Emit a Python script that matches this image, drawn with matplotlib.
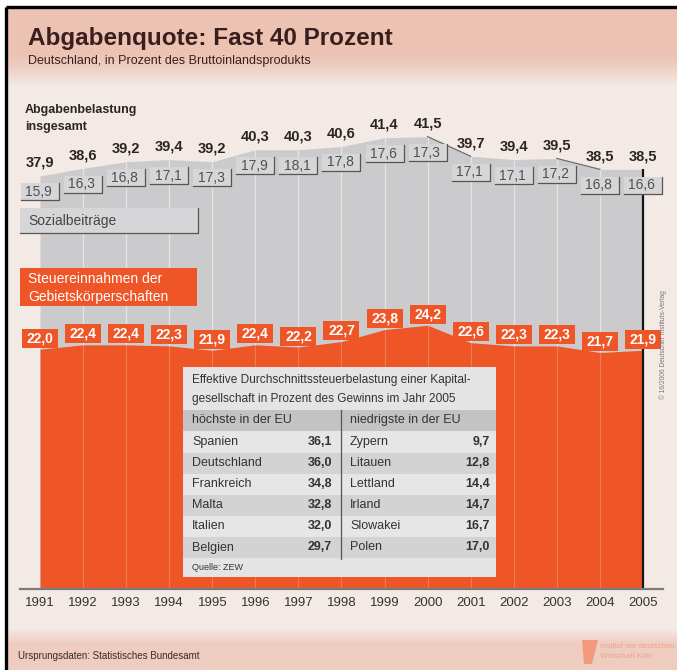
import matplotlib
matplotlib.use("Agg")
import matplotlib.pyplot as plt
from matplotlib.patches import Rectangle, Polygon
import numpy as np

# data (Deutschland, in % des BIP)
years = list(range(1991, 2006))
total = [37.9, 38.6, 39.2, 39.4, 39.2, 40.3, 40.3, 40.6, 41.4, 41.5, 39.7, 39.4, 39.5, 38.5, 38.5]
social = [15.9, 16.3, 16.8, 17.1, 17.3, 17.9, 18.1, 17.8, 17.6, 17.3, 17.1, 17.1, 17.2, 16.8, 16.6]
tax = [22.0, 22.4, 22.4, 22.3, 21.9, 22.4, 22.2, 22.7, 23.8, 24.2, 22.6, 22.3, 22.3, 21.7, 21.9]

# inset table (ZEW)
high_countries = ["Spanien", "Deutschland", "Frankreich", "Malta", "Italien", "Belgien"]
high_values = [36.1, 36.0, 34.8, 32.8, 32.0, 29.7]
low_countries = ["Zypern", "Litauen", "Lettland", "Irland", "Slowakei", "Polen"]
low_values = [9.7, 12.8, 14.4, 14.7, 16.7, 17.0]

plt.rcParams["font.family"] = ["Liberation Sans", "DejaVu Sans"]

GREY = "#CBCBCD"
BOXGREY = "#D6D6D8"
ORANGE = "#EE5527"
DARK = "#2B2424"


def fmt(v):
    return f"{v:.1f}".replace(".", ",")


W, H = 677, 670
fig = plt.figure(figsize=(W / 100, H / 100), dpi=100)
fig.patch.set_facecolor("white")
ax = fig.add_axes([0, 0, 1, 1])
ax.set_axis_off()

X0, DX = 40, 43.07   # pixel x of 1991, pixels per year
Y0, DY = 589, 10.9   # pixel y of 0 %, pixels per percentage point
ax.set_xlim(1991 - X0 / DX, 1991 + (W - X0) / DX)
ax.set_ylim(-(H - Y0) / DY, Y0 / DY)


def fx(x):
    return x / W


def fy(y):
    return 1 - y / H


def frect(x, y, w, h, z=0, **kw):
    ax.add_patch(Rectangle((fx(x), fy(y + h)), w / W, h / H,
                           transform=fig.transFigure, zorder=z, **kw))


def ftext(x, y, s, z=8, **kw):
    ax.text(fx(x), fy(y), s, transform=fig.transFigure, zorder=z, **kw)


def fline(xs, ys, z=5, **kw):
    ax.plot([fx(v) for v in xs], [fy(v) for v in ys], transform=fig.transFigure,
            zorder=z, **kw)


# background, header and footer bands
frect(6, 7, W, H, z=0, fc="#F3EAE5", ec="none")
top_c = np.array([0xEC, 0xC2, 0xB3]) / 255
bot_c = np.array([0xF3, 0xEA, 0xE5]) / 255
n = 40
for i in range(n):
    t = i / (n - 1)
    c = top_c + (bot_c - top_c) * max(0, (t - 0.55) / 0.45) ** 1.5
    frect(6, 7 + i * 2, W, 2.2, z=0.1, fc=c, ec="none")
foot_c = np.array([0xEE, 0xCC, 0xC0]) / 255
for i in range(20):
    t = i / 19
    c = bot_c + (foot_c - bot_c) * min(1, t / 0.35)
    frect(6, 628 + i * 2.1, W, 2.3, z=0.1, fc=c, ec="none")
fline([6, 6], [7, H], z=9, color="black", lw=2.4, solid_capstyle="butt")
fline([6, W], [7, 7], z=9, color="black", lw=2.4, solid_capstyle="butt")

# title
ftext(28, 45, "Abgabenquote: Fast 40 Prozent", fontsize=17.5, fontweight="bold",
      color="#3A1E1E", va="baseline")
ftext(28, 64, "Deutschland, in Prozent des Bruttoinlandsprodukts", fontsize=9,
      color="#3A1E1E", va="baseline")

# stacked areas
ax.fill_between(years, 0, total, color=GREY, lw=0, zorder=2)
ax.fill_between(years, 0, tax, color=ORANGE, lw=0, zorder=3)
ax.vlines(years[1:-1], tax[1:-1], total[1:-1], color="white", alpha=0.5, lw=0.9, zorder=2.5)
ax.vlines(years[1:-1], 0, tax[1:-1], color="#F7926F", alpha=0.6, lw=0.9, zorder=3.5)
for i in range(len(years) - 1):
    if total[i + 1] - total[i] < -0.5:
        ax.plot(years[i:i + 2], total[i:i + 2], color="#6E6E6E", lw=0.9, zorder=4)
ax.vlines(years[-1], 0, total[-1], color="#151515", lw=1.6, zorder=4)
ax.plot([1991 - 20 / DX, 1991 + 623 / DX], [0, 0], color="#7A7A7A", lw=1.6, zorder=4)

# labels per year
bw, bh = 38 / DX, 17 / DY
ow, oh = 36 / DX, 19 / DY
for yr, t, s, tx in zip(years, total, social, tax):
    ax.annotate(fmt(t), (yr, t), xytext=(0, 13), textcoords="offset pixels",
                ha="center", va="center", fontsize=10.5, fontweight="bold",
                color=DARK, zorder=7)
    yc = t - 16 / DY
    ax.add_patch(Rectangle((yr - bw / 2, yc - bh / 2), bw, bh, fc=BOXGREY, ec="none", zorder=5))
    ax.plot([yr - bw / 2, yr + bw / 2, yr + bw / 2], [yc - bh / 2, yc - bh / 2, yc + bh / 2],
            color="#555555", lw=0.9, zorder=6)
    ax.text(yr - 0.03, yc, fmt(s), ha="center", va="center", fontsize=10,
            color="#505050", zorder=7)
    oc = tx + 11 / DY
    ax.add_patch(Rectangle((yr - ow / 2, oc - oh / 2), ow, oh, fc=ORANGE, ec="none", zorder=5))
    ax.text(yr, oc, fmt(tx), ha="center", va="center", fontsize=10,
            fontweight="bold", color="white", zorder=7)
    ax.annotate(str(yr), (yr, 0), xytext=(0, -14), textcoords="offset pixels",
                ha="center", va="center", fontsize=9.5, color="#333333", zorder=7)

# legend-like labels
ftext(25, 110, "Abgabenbelastung", fontsize=9, fontweight="bold", color=DARK, va="center")
ftext(25, 127, "insgesamt", fontsize=9, fontweight="bold", color=DARK, va="center")
frect(20, 208, 178, 25, z=5, fc=BOXGREY, ec="none")
fline([20, 198, 198], [233, 233, 208], z=6, color="#555555", lw=0.9)
ftext(28, 221, "Sozialbeiträge", fontsize=10, color="#454545", va="center")
frect(20, 268, 177, 38, z=5, fc=ORANGE, ec="none")
ftext(28, 279, "Steuereinnahmen der", fontsize=10, color="white", va="center")
ftext(28, 297, "Gebietskörperschaften", fontsize=10, color="white", va="center")

# inset table
frect(183, 367, 313, 210, z=5, fc="#E4E4E4", ec="none")
ftext(192, 380, "Effektive Durchschnittssteuerbelastung einer Kapital-", fontsize=8.6,
      color="#333333", va="center")
ftext(192, 399, "gesellschaft in Prozent des Gewinns im Jahr 2005", fontsize=8.6,
      color="#333333", va="center")
frect(183, 410, 313, 21, z=5.5, fc="#C3C3C3", ec="none")
ftext(192, 420, "höchste in der EU", fontsize=9, color="#333333", va="center")
ftext(350, 420, "niedrigste in der EU", fontsize=9, color="#333333", va="center")
row_h = 21.1
for i, (hc, hv, lc, lv) in enumerate(zip(high_countries, high_values, low_countries, low_values)):
    yc = 442 + i * row_h
    frect(183, yc - row_h / 2, 313, row_h, z=5.5,
          fc="#D3D3D3" if i % 2 else "#E6E6E6", ec="none")
    ftext(192, yc, hc, fontsize=9, color="#333333", va="center")
    ftext(332, yc, fmt(hv), fontsize=9, fontweight="bold", color="#333333",
          va="center", ha="right")
    ftext(350, yc, lc, fontsize=9, color="#333333", va="center")
    ftext(490, yc, fmt(lv), fontsize=9, fontweight="bold", color="#333333",
          va="center", ha="right")
fline([341, 341], [410, 559], z=6, color="#555555", lw=0.9)
ftext(192, 568, "Quelle: ZEW", fontsize=6.5, color="#333333", va="center")

# side note and footer
ftext(663, 345, "© 16/2006 Deutscher Instituts-Verlag", fontsize=4.8, color="#777777",
      rotation=90, ha="center", va="center")
ftext(18, 656, "Ursprungsdaten: Statistisches Bundesamt", fontsize=7, color="#3A2A2A",
      va="center")
ax.add_patch(Polygon([(fx(582), fy(640)), (fx(598), fy(640)), (fx(592), fy(664)),
                      (fx(584), fy(664))], closed=True, transform=fig.transFigure,
                     fc="#F39A7E", ec="none", zorder=6))
ftext(600, 646, "Institut der deutschen", fontsize=5.6, color="#F3A28A", va="center")
ftext(600, 657, "Wirtschaft Köln", fontsize=5.6, color="#F3A28A", va="center")

fig.savefig("out.png", dpi=100, facecolor=fig.get_facecolor())
